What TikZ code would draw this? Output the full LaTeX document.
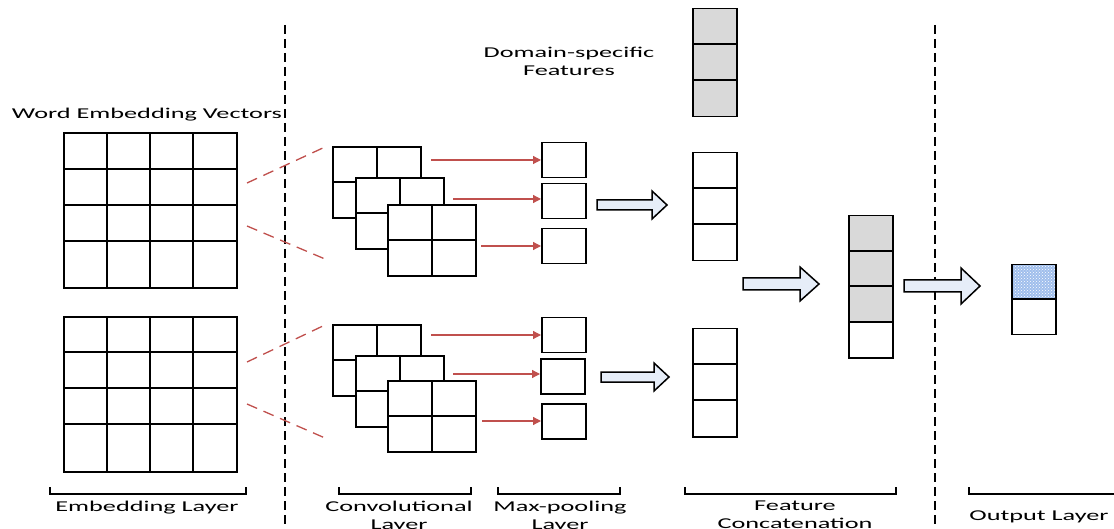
\documentclass[tikz,border=0pt]{standalone}
\usepackage{fontspec}
\setmainfont[FakeStretch=1.75]{Carlito}
\usetikzlibrary{arrows.meta,patterns}
\definecolor{redc}{RGB}{192,80,77}
\definecolor{arrowfill}{RGB}{230,237,248}
\definecolor{grayc}{RGB}{217,217,217}
\definecolor{bluec}{RGB}{160,190,236}
\tikzset{
  gridline/.style={draw=black,line width=1.5pt},
  vec/.style={draw=black,line width=1.5pt,inner sep=0pt,minimum width=44pt},
  poolbox/.style={draw=black,line width=1.5pt,inner sep=0pt,minimum width=44pt,minimum height=35pt,anchor=north west},
  sepline/.style={draw=black,line width=2.2pt,dash pattern=on 9pt off 5pt},
  reddash/.style={draw=redc,line width=1.3pt,dash pattern=on 11pt off 7pt},
  redarrow/.style={draw=redc,line width=1.2pt,-{Triangle[length=8pt,width=8pt]}},
  barr/.style={draw=black,line width=1.5pt,fill=arrowfill,line join=miter},
  lbl/.style={font=\fontsize{15}{18}\selectfont,inner sep=0pt,align=center},
  brk/.style={draw=black,line width=1.5pt}
}
\newcommand\convframe[2]{%
  \filldraw[gridline,fill=white] (#1,#2) rectangle ++(88,71);
  \draw[gridline] (#1+44,#2) -- ++(0,71);
  \draw[gridline] (#1,#2+35) -- ++(88,0);}
\newcommand\blockarr[6]{% x1 x2 xh yc shaft head
  \draw[barr] (#1,#4-#5) -- (#3,#4-#5) -- (#3,#4-#6) -- (#2,#4) -- (#3,#4+#6) -- (#3,#4+#5) -- (#1,#4+#5) -- cycle;}
\begin{document}
\begin{tikzpicture}[x=1pt,y=-1pt]
\useasboundingbox (0,0) rectangle (1114,529);
\clip (0,0) rectangle (1114,529);

% separators
\draw[sepline] (285,25) -- (285,529);
\draw[sepline] (935,25) -- (935,529);

% embedding grids
\foreach \t/\a/\b/\c/\bot in {133/169/205/241/288, 317/352/388/424/472}{
  \draw[gridline] (64,\t) rectangle (237,\bot);
  \foreach \x in {107,150,193} \draw[gridline] (\x,\t) -- (\x,\bot);
  \foreach \y in {\a,\b,\c} \draw[gridline] (64,\y) -- (237,\y);
}
\node[lbl,anchor=base] (wev) at (147,119) {Word Embedding Vectors};

% red dashed projection lines
\coordinate (ua1) at (247,183); \coordinate (ub1) at (325,147);
\coordinate (ua2) at (247,226); \coordinate (ub2) at (325,259);
\coordinate (la1) at (247,362); \coordinate (lb1) at (325,325);
\coordinate (la2) at (247,404); \coordinate (lb2) at (325,438);
\draw[reddash] (ua1) -- (ub1);
\draw[reddash] (ua2) -- (ub2);
\draw[reddash] (la1) -- (lb1);
\draw[reddash] (la2) -- (lb2);

% convolution frames
\convframe{333}{147}\convframe{356}{178}\convframe{388}{205}
\convframe{333}{325}\convframe{356}{356}\convframe{388}{381}

% pooling boxes
\node[poolbox] (p1) at (541,142) {};
\node[poolbox] (p2) at (541,183) {};
\node[poolbox] (p3) at (541,228) {};
\node[poolbox] (q1) at (541,317) {};
\node[poolbox] (q2) at (540,358) {};
\node[poolbox] (q3) at (541,403) {};

\coordinate (s1) at (431,160); \coordinate (s2) at (453,199); \coordinate (s3) at (481,246);
\coordinate (t1) at (431,335); \coordinate (t2) at (453,374); \coordinate (t3) at (482,421);
\draw[redarrow] (s1) -- (s1 -| p1.west);
\draw[redarrow] (s2) -- (s2 -| p2.west);
\draw[redarrow] (s3) -- (s3 -| p3.west);
\draw[redarrow] (t1) -- (t1 -| q1.west);
\draw[redarrow] (t2) -- (t2 -| q2.west);
\draw[redarrow] (t3) -- (t3 -| q3.west);

% block arrows
\blockarr{597}{667}{652}{205}{5}{14}
\blockarr{601}{669}{654}{377}{5}{14}
\blockarr{743}{819}{800}{284}{6}{17}
\blockarr{904}{980}{961}{286}{6}{18}

% feature vectors
\node[vec,fill=grayc,minimum height=108pt,anchor=north west] (dom) at (692,8) {};
\draw[gridline] (692,44) -- (736,44); \draw[gridline] (692,80) -- (736,80);
\node[lbl,anchor=north] (domlbl) at (569,47) {Domain-specific\\Features};

\node[vec,minimum height=108pt,anchor=north west] (c1) at (692,152) {};
\draw[gridline] (692,188) -- (736,188); \draw[gridline] (692,224) -- (736,224);

\node[vec,minimum height=108pt,anchor=north west] (c2) at (692,328) {};
\draw[gridline] (692,364) -- (736,364); \draw[gridline] (692,400) -- (736,400);

% concatenated vector
\fill[grayc] (848,215) rectangle (892,322);
\node[vec,minimum height=142pt,anchor=north west] (cat) at (848,215) {};
\draw[gridline] (848,251) -- (892,251); \draw[gridline] (848,286) -- (892,286); \draw[gridline] (848,322) -- (892,322);

% output vector
\fill[bluec] (1011,264) rectangle (1055,299);
\fill[pattern=crosshatch dots,pattern color=white] (1011,264) rectangle (1055,299);
\node[vec,minimum height=70pt,anchor=north west] (out) at (1011,264) {};
\draw[gridline] (1011,299) -- (1055,299);

% brackets and labels
\draw[brk] (50,487) -- (50,494) -- (246,494) -- (246,487);
\draw[brk] (339,487) -- (339,494) -- (471,494) -- (471,487);
\draw[brk] (498,487) -- (498,494) -- (620,494) -- (620,487);
\draw[brk] (685,487) -- (685,494) -- (896,494) -- (896,487);
\draw[brk] (969,487) -- (969,494) -- (1120,494);

\node[lbl,anchor=north] (l1) at (147,501) {Embedding Layer};
\node[lbl,anchor=north] (l2) at (399,501) {Convolutional\\Layer};
\node[lbl,anchor=north] (l3) at (560,501) {Max-pooling\\Layer};
\node[lbl,anchor=north] (l4) at (795,501) {Feature\\Concatenation};
\node[lbl,anchor=north] (l5) at (1039,511) {Output Layer};
\end{tikzpicture}
\end{document}
